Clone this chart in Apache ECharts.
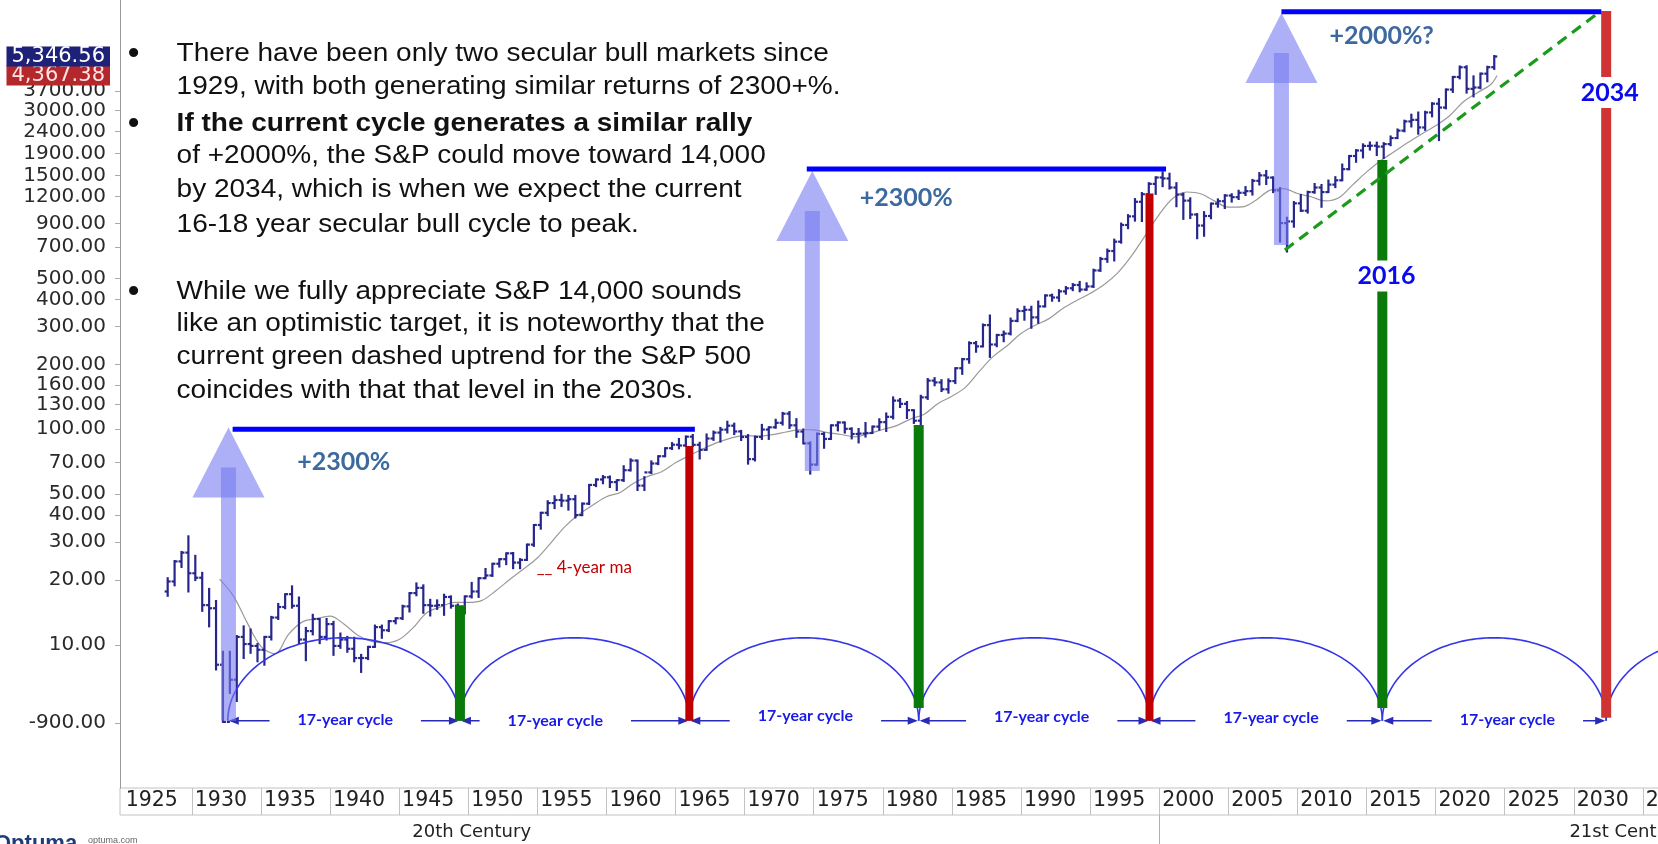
<!DOCTYPE html>
<html><head><meta charset="utf-8">
<script src="https://cdn.jsdelivr.net/npm/echarts/dist/echarts.min.js"></script>
<style>html,body{margin:0;padding:0;background:#fff;overflow:hidden}#c{width:1658px;height:844px}</style>
</head><body><div id="c"></div>
<script>
// ================= DATA =================
// S&P 500, half-year OHLC bars: period i starts at halfYearStart + i/2
const halfYearStart = 1928;
const firstOpen = 17.7;
const barHigh = [
 20.4,24.5, 27.0,31.9, 25.9,21.6, 18.2,16.0, 9.3,9.3, 11.0,12.2, 11.8,10.1, 10.9,13.5, 15.5,17.2, 18.7,16.6,
 12.0,13.8, 13.2,13.2, 12.8,11.3, 10.9,10.8, 9.0,9.8, 12.3,12.3, 12.9,13.3, 15.2,17.4, 19.3,18.9, 16.2,16.1,
 17.1,16.8, 15.4,16.8, 19.4,20.4, 22.5,23.8, 25.0,26.6, 26.7,25.0, 29.2,36.0, 41.0,46.4, 48.9,49.7, 49.1,49.1,
 45.3,55.2, 58.6,60.7, 60.4,58.0, 67.4,72.6, 71.6,60.0, 71.0,75.0, 81.7,86.3, 90.1,92.6, 94.1,86.6, 94.6,97.6,
 101.5,108.4, 106.2,98.3, 94.0,92.5, 104.8,102.2, 110.7,119.1, 120.2,111.4, 99.8,86.9, 95.6,96.0, 104.3,107.8, 107.5,101.0,
 100.3,106.9, 103.0,111.3, 118.4,140.5, 138.1,133.8, 122.6,143.0, 171.0,172.6, 169.0,170.4, 191.9,212.0, 253.0,254.0, 306.0,336.8,
 274.0,283.7, 326.0,360.0, 369.8,369.8, 391.0,418.0, 420.8,441.3, 456.3,470.9, 482.0,475.0, 549.4,622.9, 681.1,757.0, 898.7,983.1,
 1167.0,1244.9, 1383.0,1473.1, 1553.1,1530.1, 1383.4,1236.7, 1177.0,994.5, 1015.3,1112.6, 1163.2,1217.3, 1229.1,1275.8, 1326.7,1431.8, 1540.6,1576.1,
 1471.8,1313.1, 956.2,1130.4, 1219.8,1262.6, 1370.6,1356.5, 1422.4,1474.5, 1687.2,1849.4, 1968.2,2093.6, 2134.7,2132.8, 2120.6,2277.5, 2453.8,2695.0,
 2872.9,2940.9, 2964.2,3247.9, 3393.5,3760.2, 4300.5,4808.9, 4818.6,4325.3, 4458.5,4793.3, 5375.0
];
const barLow = [
 16.9,18.9, 23.0,17.7, 20.0,14.4, 12.2,7.7, 4.4,6.0, 5.5,8.7, 9.2,8.4, 8.1,10.6, 13.2,14.8, 14.9,10.2,
 8.5,11.2, 10.2,10.6, 9.0,9.7, 9.3,8.4, 7.5,8.6, 9.8,10.8, 11.6,12.6, 13.2,14.3, 17.0,14.1, 13.7,14.7,
 13.8,14.9, 13.6,14.0, 16.6,16.7, 20.4,20.9, 23.1,23.7, 22.7,22.7, 24.8,28.8, 34.6,40.0, 43.1,44.1, 42.4,39.0,
 40.0,45.0, 54.5,56.2, 54.0,52.3, 57.6,64.4, 52.3,52.3, 62.7,68.9, 75.0,81.0, 81.6,83.6, 83.6,73.2, 80.3,89.3,
 87.7,96.6, 95.0,89.2, 69.3,71.7, 90.2,90.2, 101.7,105.2, 101.4,92.2, 86.0,62.3, 68.6,82.1, 90.2,98.8, 96.5,90.7,
 86.9,92.5, 96.1,99.5, 98.2,112.3, 126.8,112.8, 107.0,102.4, 138.3,160.0, 150.4,147.8, 163.7,180.7, 203.5,228.8, 242.2,216.5,
 242.6,256.0, 275.3,317.0, 322.0,295.5, 311.5,371.0, 394.5,394.0, 425.0,441.4, 435.9,443.0, 457.0,542.5, 597.3,605.9, 733.0,855.3,
 927.7,923.3, 1205.5,1233.7, 1339.4,1305.8, 1081.2,944.8, 952.9,768.6, 788.9,951.0, 1076.3,1060.7, 1136.2,1168.2, 1219.3,1224.5, 1364.0,1370.6,
 1257.0,741.0, 666.8,869.3, 1028.3,1010.9, 1249.1,1074.8, 1257.6,1325.4, 1426.2,1604.6, 1737.9,1820.7, 1980.9,1867.0, 1810.1,2074.0, 2238.8,2405.7,
 2532.7,2346.6, 2444.0,2822.1, 2191.9,3074.3, 3662.7,4233.1, 3636.9,3491.6, 3808.9,4103.8, 4682.1
];
const barClose = [
 19.7,24.4, 26.8,21.5, 20.5,15.3, 14.8,8.1, 4.4,6.9, 10.9,10.1, 9.9,9.5, 10.9,13.4, 15.0,17.2, 15.2,10.6,
 11.6,13.2, 10.9,12.5, 9.9,10.6, 9.6,8.7, 8.7,9.8, 12.1,11.7, 12.9,13.3, 15.1,17.4, 18.4,15.3, 15.2,15.3,
 16.7,15.2, 14.2,16.8, 17.7,20.4, 21.0,23.8, 25.0,26.6, 24.1,24.8, 29.2,36.0, 41.0,45.5, 47.0,46.7, 47.4,40.0,
 45.2,55.2, 58.5,59.9, 56.9,58.1, 64.6,71.6, 54.8,63.1, 69.4,75.0, 81.7,84.8, 84.1,92.4, 84.7,80.3, 90.6,96.5,
 99.6,103.9, 97.7,92.1, 72.7,92.2, 99.7,102.1, 107.1,118.1, 104.3,97.6, 86.0,68.6, 95.2,90.2, 104.3,107.5, 100.5,95.1,
 95.5,96.1, 102.9,107.9, 114.2,135.8, 131.2,122.6, 109.6,140.6, 168.1,164.9, 153.2,167.2, 191.9,211.3, 250.8,242.2, 304.0,247.1,
 273.5,277.7, 318.0,353.4, 358.0,330.2, 371.2,417.1, 408.1,435.7, 450.5,466.5, 444.3,459.3, 544.8,615.9, 670.6,740.7, 885.1,970.4,
 1133.8,1229.2, 1372.7,1469.3, 1454.6,1320.3, 1224.4,1148.1, 989.8,879.8, 974.5,1111.9, 1140.8,1211.9, 1191.3,1248.3, 1270.2,1418.3, 1503.4,1468.4,
 1280.0,903.3, 919.3,1115.1, 1030.7,1257.6, 1320.6,1257.6, 1362.2,1426.2, 1606.3,1848.4, 1960.2,2058.9, 2063.1,2043.9, 2098.9,2238.8, 2423.4,2673.6,
 2718.4,2506.9, 2941.8,3230.8, 3100.3,3756.1, 4297.5,4766.2, 3785.4,3839.5, 4450.4,4769.8, 5346.6
];
// 4-year moving average, one point per year-end starting 1932.0
const maStartYear = 1932;
const maValues = [
 20.2,16.9,12.7,9.85,9.1,11.2,12.8,13.25,13.6,12.5, 11.1,10.4,10.25,10.6,12.0,14.1,15.0,15.75,15.75,16.1,
 17.85,20.1,22.5,25.3,29.85,35.4,40.3,44.4,48.65,50.95, 56.4,60.5,63.6,70.0,75.5,81.2,86.7,91.0,93.4,92.9,
 94.5,97.1,99.5,99.45,96.4,94.6,92.3,95.6,99.8,104, 111.5,117.4,131.7,142.2,156.9,186,217.6,243.9,277.9,302.5,
 324.9,362.3,394.5,426,467.4,531,636.5,792.8,989.2,1178.4, 1258.5,1235.6,1145,1070.9,1074.2,1153.4,1281.4,1303.7,1238.9,1196.1,
 1144,1184,1357.9,1555.9,1754,1932.75,2134,2337.8,2550.9,2831.7, 3287.7,3625.8,3968.4
];
const maLast = [2024.45, 4367.38];

// y-axis tick labels as printed
const yTickValues = [3700,3000,2400,1900,1500,1200,900,700,500,400,300,200,160,130,100,70,50,40,30,20,10];
const yTopTick = 3700;
const yOddTick = [4.35, '-900.00'];
const lastPriceTag = [5346.56, '5,346.56'];
const maPriceTag = [4367.38, '4,367.38'];
// x-axis year boxes
const yearBoundaries = [1930,1935,1940,1945,1950,1955,1960,1965,1970,1975,1980,1985,1990,1995,2000,2005,2010,2015,2020,2025,2030,2035];
const yearLabels = [1925,1930,1935,1940,1945,1950,1955,1960,1965,1970,1975,1980,1985,1990,1995,2000,2005,2010,2015,2020,2025,2030,2035];
const centuryDivider = [2000];
const centuryLabels = [[1950.25,'20th Century'],[2033.9,'21st Century']];

// ---- annotations anchored in data space ----
const cycleYears = [1932.6, 1949.4, 1966.0, 1982.6, 1999.3, 2016.15, 2032.35, 2048.9];
const cycleBase = 4.45, cycleArcTop = 10.8;
const cycleLabelYears = [1941.1, 1956.3, 1974.4, 1991.5, 2008.1, 2025.2];
const cycleLabelLevels = [4.5, 4.45, 4.7, 4.65, 4.6, 4.5];
const greenYears = [1949.4, 1982.6, 2016.15], greenTops = [15.3, 104.8, 1770], greenBottoms = [4.45, 5.1, 5.1];
const redYears = [1966.0, 1999.3, 2032.35], redTops = [83.6, 1240, 8700], redBottoms = [4.45, 4.45, 4.6];
const arrowYears = [1932.65, 1974.9, 2008.85], arrowTips = [102, 1574, 8510], arrowFeet = [4.45, 64, 714];
const targetFrom = [1932.95, 1974.5, 2008.85], targetTo = [1966.4, 2000.5, 2032.0], targetLevels = [100, 1607, 8630];
const gainYears = [1941.0, 1981.7, 2016.1], gainLevels = [70.5, 1186, 6650], gainTexts = ['+2300%','+2300%','+2000%?'];
const trendYears = [2009.1, 2031.9], trendLevels = [678, 8630];
const markYears = [2016.45, 2032.6], markLevels = [514, 3640], markTexts = ['2016','2034'];
const maLegend = [1958.4, 22.8, '__ 4-year ma'];
const bulletLines = [
 ['There have been only two secular bull markets since', true, false],
 ['1929, with both generating similar returns of 2300+%.', false, false],
 ['If the current cycle generates a similar rally', true, true],
 ['of +2000%, the S&P could move toward 14,000', false, false],
 ['by 2034, which is when we expect the current', false, false],
 ['16-18 year secular bull cycle to peak.', false, false],
 ['While we fully appreciate S&P 14,000 sounds', true, false],
 ['like an optimistic target, it is noteworthy that the', false, false],
 ['current green dashed uptrend for the S&P 500', false, false],
 ['coincides with that that level in the 2030s.', false, false]
];

// ================= LAYOUT / STYLE =================
const L = Math.log10;
const X_MIN = 1924.8, X_MAX = 2036.1, Y_MIN = 0.337, Y_MAX = 3.99;
const STRIP_MAX = 2040, STRIP_WIDTH = 1592;
const YEAR_LABEL_OFFSET = 2.1;
const BAR_COLOR = '#26268c';
const LINE_Y = [54, 86.8, 123.7, 156.5, 190.3, 225.2, 291.8, 324.6, 357.4, 391.2];
const AX_FONT = '"DejaVu Sans", sans-serif';

const ohlc = barClose.map((c, i) => [halfYearStart + i * 0.5 + 0.25,
  L(i === 0 ? firstOpen : barClose[i - 1]), L(barHigh[i]), L(barLow[i]), L(c)]);
const maData = maValues.map((v, i) => [maStartYear + i, L(v)]).concat([[maLast[0], L(maLast[1])]]);

function renderOHLC(params, api) {
  const x = api.value(0);
  const pO = api.coord([x, api.value(1)]), pH = api.coord([x, api.value(2)]);
  const pL = api.coord([x, api.value(3)]), pC = api.coord([x, api.value(4)]);
  const s = {stroke: BAR_COLOR, lineWidth: 2.2};
  return {type: 'group', children: [
    {type: 'line', shape: {x1: pH[0], y1: pH[1] - 1, x2: pL[0], y2: pL[1] + 1}, style: s},
    {type: 'line', shape: {x1: pO[0] - 3, y1: pO[1], x2: pO[0], y2: pO[1]}, style: s},
    {type: 'line', shape: {x1: pC[0], y1: pC[1], x2: pC[0] + 3, y2: pC[1]}, style: s}
  ]};
}
const arcData = cycleYears.slice(0, -1).map((y, i) => [y, cycleYears[i + 1]]);
function renderArc(params, api) {
  const y0 = api.value(0), y1 = api.value(1);
  const a0 = api.coord([y0, L(cycleBase)]), a1 = api.coord([y1, L(cycleBase)]);
  const t = api.coord([(y0 + y1) / 2, L(cycleArcTop)]);
  const cx = (a0[0] + a1[0]) / 2, rx = (a1[0] - a0[0]) / 2, ry = a0[1] - t[1];
  const pts = [];
  for (let k = 0; k <= 80; k++) { const th = Math.PI - Math.PI * k / 80; pts.push([cx + rx * Math.cos(th), a0[1] - ry * Math.sin(th)]); }
  return {type: 'polyline', shape: {points: pts}, style: {stroke: '#3434e8', lineWidth: 1.6, fill: 'none'}};
}
const cycArrowData = cycleYears.slice(0, 6).map((y, i) => [y, cycleYears[i + 1]]);
function renderCycArrow(params, api) {
  const p0 = api.coord([api.value(0), L(cycleBase)]), p1 = api.coord([api.value(1), L(cycleBase)]);
  const y = p0[1], c = '#2a2ab8';
  return {type: 'group', children: [
    {type: 'line', shape: {x1: p0[0] + 3, y1: y, x2: p1[0] - 3, y2: y}, style: {stroke: c, lineWidth: 1.5}},
    {type: 'polygon', shape: {points: [[p0[0] + 1, y], [p0[0] + 11, y - 4], [p0[0] + 11, y + 4]]}, style: {fill: c}},
    {type: 'polygon', shape: {points: [[p1[0] - 1, y], [p1[0] - 11, y - 4], [p1[0] - 11, y + 4]]}, style: {fill: c}}
  ]};
}
function vbarRenderer(colors, widths) {
  return function (params, api) {
    const i = params.dataIndex;
    const top = api.coord([api.value(0), api.value(1)]), bot = api.coord([api.value(0), api.value(2)]);
    const w = widths[i];
    return {type: 'rect', shape: {x: top[0] - w / 2, y: top[1], width: w, height: bot[1] - top[1]}, style: {fill: colors[i]}};
  };
}
const ARROW_FILL = 'rgba(118,124,240,0.60)';
function renderArrow(params, api) {
  const x = api.value(0);
  const tip = api.coord([x, api.value(1)]), foot = api.coord([x, api.value(2)]);
  return {type: 'group', children: [
    {type: 'polygon', shape: {points: [[tip[0], tip[1]], [tip[0] - 36, tip[1] + 70], [tip[0] + 36, tip[1] + 70]]}, style: {fill: ARROW_FILL}},
    {type: 'rect', shape: {x: tip[0] - 7.5, y: tip[1] + 40, width: 15, height: foot[1] - tip[1] - 40}, style: {fill: ARROW_FILL}}
  ]};
}
function renderTarget(params, api) {
  const a = api.coord([api.value(0), api.value(2)]), b = api.coord([api.value(1), api.value(2)]);
  return {type: 'line', shape: {x1: a[0], y1: a[1], x2: b[0], y2: b[1]}, style: {stroke: '#0000ff', lineWidth: 5}};
}
function textRenderer(texts, font, color, bg, pad) {
  return function (params, api) {
    const p = api.coord([api.value(0), api.value(1)]);
    const st = {text: texts[params.dataIndex], font: font, fill: color, align: 'center', verticalAlign: 'middle',
      textAlign: 'center', textVerticalAlign: 'middle'};
    if (bg) { st.backgroundColor = bg; st.padding = pad; }
    return {type: 'text', x: p[0], y: p[1], style: st};
  };
}

function yFormatter(v) {
  if (Math.abs(L(yOddTick[0]) - v) < 1e-6) return yOddTick[1];
  return Math.pow(10, v).toFixed(2);
}
// an extra label-only y axis sharing the main scale (one label each, so none gets hidden)
function labelAxis(value, text, style) {
  return {gridIndex: 0, type: 'value', min: Y_MIN, max: Y_MAX, position: 'left', offset: 0,
    axisLine: {show: false}, axisTick: {show: false}, splitLine: {show: false},
    axisLabel: Object.assign({customValues: [L(value)], formatter: () => text, hideOverlap: false,
      showMinLabel: true, showMaxLabel: true, fontFamily: AX_FONT}, style)};
}
const mainLabelVals = yTickValues.filter(v => v !== yTopTick).map(L).concat([L(yOddTick[0])]);

const graphicEls = [];
bulletLines.forEach((ln, i) => {
  const font = (ln[2] ? 'bold ' : '') + '25px "Liberation Sans", Arial, sans-serif';
  graphicEls.push({type: 'text', x: 176.6, y: LINE_Y[i], scaleX: 1.12, z: 50,
    style: {text: ln[0], font: font, fill: '#111', textVerticalAlign: 'middle', verticalAlign: 'middle'}});
  if (ln[1]) graphicEls.push({type: 'text', x: 128, y: LINE_Y[i], z: 50,
    style: {text: '•', font: 'bold 32px "Liberation Sans", Arial', fill: '#111', textVerticalAlign: 'middle', verticalAlign: 'middle'}});
});
graphicEls.push({type: 'text', x: -6, y: 833, style: {text: 'Optuma', font: 'bold 22px "Liberation Sans", Arial', fill: '#1f3b78'}});
graphicEls.push({type: 'text', x: 88, y: 836, style: {text: 'optuma.com', font: '9px "Liberation Sans", Arial', fill: '#666'}});

const option = {
  animation: false,
  backgroundColor: '#ffffff',
  grid: [
    {left: 120, right: 0, top: 0, bottom: 56, outerBoundsMode: 'none'},
    {left: 120, width: STRIP_WIDTH, top: 788, height: 27, outerBoundsMode: 'none', show: true, borderColor: '#c2c2c2', borderWidth: 1, backgroundColor: 'transparent'},
    {left: 120, width: STRIP_WIDTH, top: 815, height: 29, outerBoundsMode: 'none'}
  ],
  xAxis: [
    {gridIndex: 0, type: 'value', min: X_MIN, max: X_MAX, show: false},
    {gridIndex: 1, type: 'value', min: X_MIN, max: STRIP_MAX, position: 'bottom',
      axisLine: {show: false}, splitLine: {show: false},
      axisTick: {show: true, inside: true, length: 27, customValues: yearBoundaries, lineStyle: {color: '#c2c2c2'}},
      axisLabel: {show: true, inside: true, hideOverlap: false, showMinLabel: true, showMaxLabel: true,
        customValues: yearLabels.map(y => y + YEAR_LABEL_OFFSET), formatter: v => String(Math.round(v - YEAR_LABEL_OFFSET)),
        margin: 14, verticalAlign: 'middle', fontFamily: AX_FONT, fontSize: 20.5, color: '#222'}},
    {gridIndex: 2, type: 'value', min: X_MIN, max: STRIP_MAX, position: 'bottom',
      axisLine: {show: false}, splitLine: {show: false},
      axisTick: {show: true, inside: true, length: 29, customValues: centuryDivider, lineStyle: {color: '#b0b0b0'}},
      axisLabel: {show: true, inside: true, hideOverlap: false, showMinLabel: true, showMaxLabel: true, customValues: centuryLabels.map(c => c[0]),
        formatter: v => { const c = centuryLabels.find(c => Math.abs(c[0] - v) < 1e-6); return c ? c[1] : ''; },
        margin: 12, verticalAlign: 'middle', fontFamily: AX_FONT, fontSize: 18, color: '#222'}}
  ],
  yAxis: [
    {gridIndex: 0, type: 'value', min: Y_MIN, max: Y_MAX, position: 'left',
      axisLine: {show: true, lineStyle: {color: '#9a9a9a', width: 1}},
      axisTick: {show: true, length: 5, customValues: yTickValues.map(L).concat([L(yOddTick[0])]), lineStyle: {color: '#aaaaaa'}},
      splitLine: {show: false},
      axisLabel: {customValues: mainLabelVals, formatter: yFormatter, hideOverlap: false,
        margin: 14, fontFamily: AX_FONT, fontSize: 20, lineHeight: 15, color: '#2a2a2a'}},
    {gridIndex: 1, type: 'value', min: 0, max: 1, show: false},
    {gridIndex: 2, type: 'value', min: 0, max: 1, show: false},
    labelAxis(yTopTick, yTopTick.toFixed(2), {margin: 14, fontSize: 20, lineHeight: 15, color: '#2a2a2a'}),
    labelAxis(maPriceTag[0], maPriceTag[1], {margin: 10, fontSize: 21, lineHeight: 19, color: '#ffe4e4', backgroundColor: '#b4282b', padding: [1, 5, 0, 5]}),
    labelAxis(lastPriceTag[0], lastPriceTag[1], {margin: 10, fontSize: 21, lineHeight: 19, color: '#ffffff', backgroundColor: '#1d2178', padding: [1, 5, 0, 5]})
  ],
  graphic: {elements: graphicEls},
  series: [
    {type: 'line', name: '4-year ma', data: maData, showSymbol: false, smooth: 0.35,
      lineStyle: {color: '#9a9a9a', width: 1.2}, z: 2, silent: true},
    {type: 'custom', name: 'S&P 500', data: ohlc, renderItem: renderOHLC, encode: {x: 0, y: [1, 2, 3, 4]}, z: 3, silent: true},
    {type: 'custom', name: 'arcs', data: arcData, renderItem: renderArc, encode: {x: [0, 1]}, z: 4, silent: true},
    {type: 'custom', name: 'cycle arrows', data: cycArrowData, renderItem: renderCycArrow, encode: {x: [0, 1]}, z: 4, silent: true},
    {type: 'custom', name: 'troughs', data: greenYears.map((y, i) => [y, L(greenTops[i]), L(greenBottoms[i])]),
      renderItem: vbarRenderer(['#0a7a0a', '#0a7a0a', '#0a7a0a'], [10, 10, 10]), encode: {x: 0, y: [1, 2]}, z: 5, silent: true},
    {type: 'custom', name: 'peaks', data: redYears.map((y, i) => [y, L(redTops[i]), L(redBottoms[i])]),
      renderItem: vbarRenderer(['#c00000', '#c00000', '#cf3333'], [8, 8, 10]), encode: {x: 0, y: [1, 2]}, z: 5, silent: true},
    {type: 'custom', name: 'arrows', data: arrowYears.map((y, i) => [y, L(arrowTips[i]), L(arrowFeet[i])]),
      renderItem: renderArrow, encode: {x: 0, y: [1, 2]}, z: 6, silent: true},
    {type: 'custom', name: 'targets', data: targetFrom.map((y, i) => [y, targetTo[i], L(targetLevels[i])]),
      renderItem: renderTarget, encode: {x: [0, 1], y: 2}, z: 7, silent: true},
    {type: 'line', name: 'uptrend', data: trendYears.map((y, i) => [y, L(trendLevels[i])]), showSymbol: false,
      lineStyle: {color: '#1b9a1b', width: 3.2, type: [11, 7]}, z: 7, silent: true},
    {type: 'custom', name: 'gains', data: gainYears.map((y, i) => [y, L(gainLevels[i])]),
      renderItem: textRenderer(gainTexts, 'bold 25px Lato, "Open Sans", sans-serif', '#3c6a9e'), z: 8, silent: true},
    {type: 'custom', name: 'cycle labels', data: cycleLabelYears.map((y, i) => [y, L(cycleLabelLevels[i])]),
      renderItem: textRenderer(cycleLabelYears.map(() => '17-year cycle'), 'bold 16px Lato, "Open Sans", sans-serif', '#1a1ae6', '#ffffff', [4, 28, 3, 28]), z: 8, silent: true},
    {type: 'custom', name: 'marks', data: markYears.map((y, i) => [y, L(markLevels[i])]),
      renderItem: textRenderer(markTexts, 'bold 25px Lato, "Open Sans", sans-serif', '#0a0aee', '#ffffff', [3, 4, 3, 4]), z: 9, silent: true},
    {type: 'custom', name: 'ma legend', data: [[maLegend[0], L(maLegend[1])]],
      renderItem: textRenderer([maLegend[2]], '17px Lato, "Open Sans", sans-serif', '#c00000'), z: 8, silent: true}
  ]
};
const chart = echarts.init(document.getElementById('c'));
chart.setOption(option);
</script></body></html>
